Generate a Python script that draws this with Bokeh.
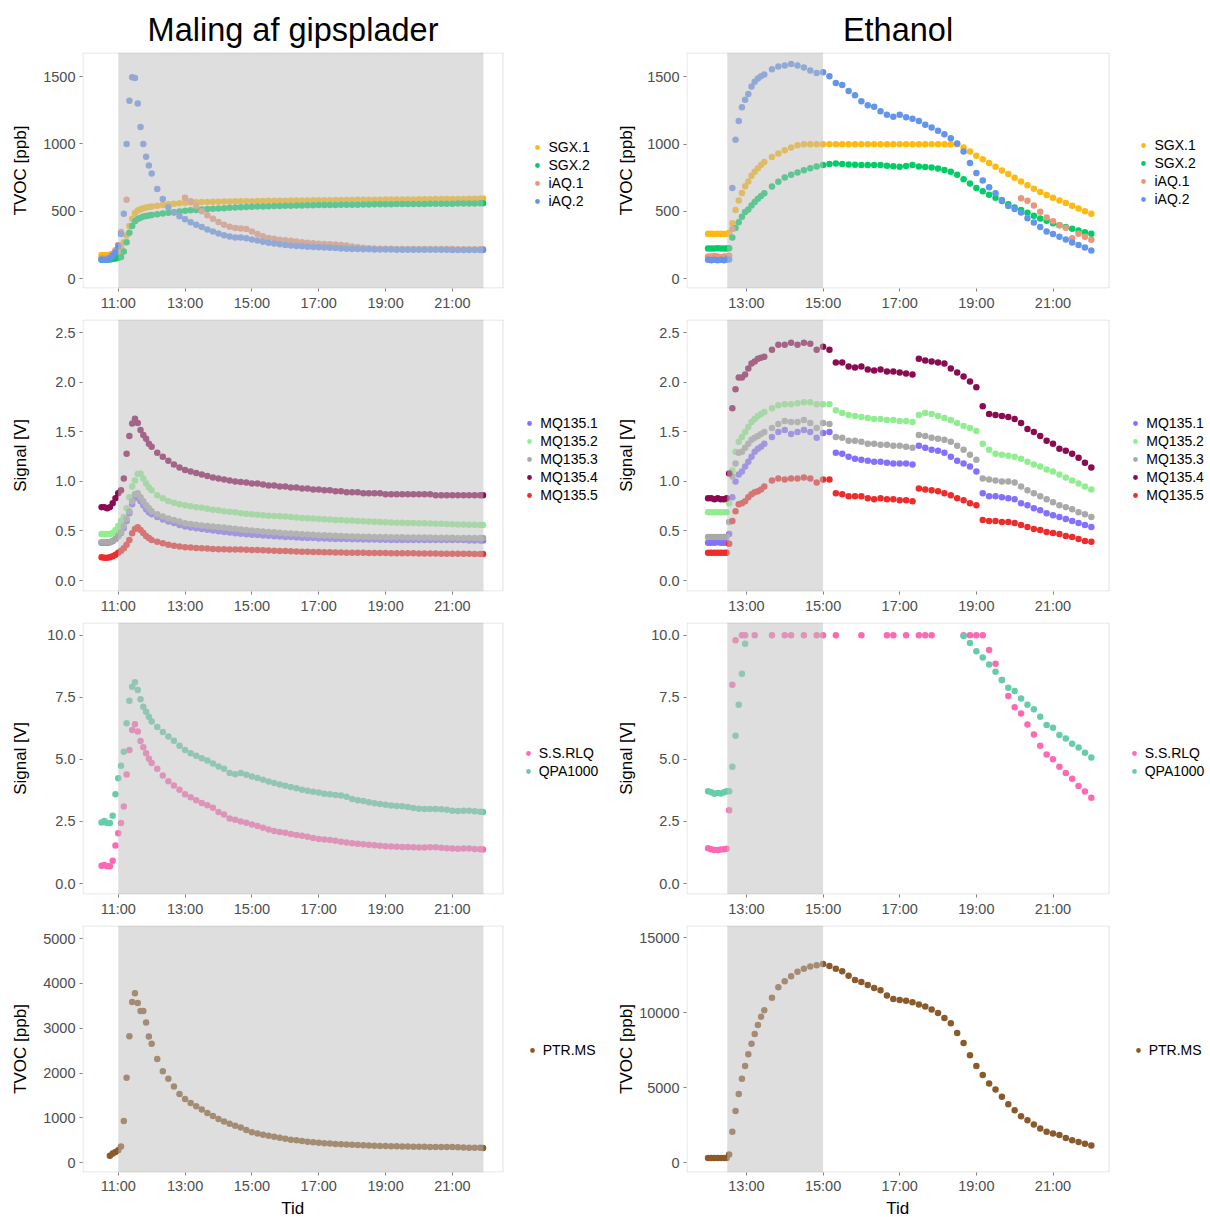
import numpy as np
from bokeh.plotting import figure
from bokeh.models import Range1d, FixedTicker, BoxAnnotation, Legend, LegendItem, Title
from bokeh.layouts import gridplot
from bokeh.embed import file_html
from bokeh.resources import INLINE

N = None

# ---------------- data: left column "Maling af gipsplader" ----------------
# sample times, minutes after midnight
T_LEFT = [630, 635, 640, 645, 650, 655, 660, 665, 670, 675, 680, 685, 690, 695, 700, 705, 710, 715, 720,
          730, 740, 750, 760, 770, 780, 790, 800, 810, 820, 830, 840, 850, 860, 870, 880, 890, 900,
          910, 920, 930, 940, 950, 960, 970, 980, 990, 1000, 1010, 1020, 1030, 1040, 1050, 1060,
          1070, 1080, 1090, 1100, 1110, 1120, 1130, 1140, 1150, 1160, 1170, 1180, 1190, 1200,
          1210, 1220, 1230, 1240, 1250, 1260, 1270, 1280, 1290, 1300, 1310, 1315]

SGX1_L = [175, 175, 175, 177, 180, 188, 200, 230, 270, 320, 390, 445, 487, 505, 515, 522, 527, 531, 535,
          540, 546, 551, 556, 560, 563, 565, 567, 568, 569, 570, 571, 572, 573, 574, 574, 575,
          575, 576, 576, 577, 577, 578, 578, 579, 579, 580, 580, 581, 581, 582, 582, 583, 583, 584,
          584, 585, 585, 585, 586, 586, 587, 587, 587, 588, 588, 588, 589, 589, 589, 590, 590, 590,
          591, 591, 591, 592, 592, 592, 593]
SGX2_L = [140, 140, 140, 142, 145, 148, 152, 160, 200, 270, 340, 390, 425, 442, 452, 460, 465, 469, 472,
          478, 483, 488, 493, 498, 503, 507, 510, 513, 516, 519, 521, 523, 525, 527, 529, 531,
          533, 535, 536, 537, 538, 539, 540, 541, 542, 543, 544, 545, 546, 546, 547, 547, 548, 548,
          549, 549, 550, 550, 551, 551, 552, 552, 553, 553, 553, 554, 554, 554, 555, 555, 556, 556,
          556, 557, 557, 558, 558, 559, 559]
IAQ1_L = [152, 152, 155, 165, 185, 210, 250, 345, N, 585, N, N, N, N, N, N, N, N, N,
          N, N, N, N, N, 600, 575, 540, 500, 470, 445, 420, 400, 385, 375, 372, 368,
          350, 330, 315, 302, 295, 288, 284, 280, 275, 270, 266, 262, 258, 256, 254, 252, 250, 245,
          238, 232, 228, 225, 223, 222, 221, 221, 220, 220, 220, 220, 220, 220, 220, 219, 219, 219,
          219, 218, 218, 218, 218, 217, 217]
IAQ2_L = [142, 140, 140, 150, 170, 195, 240, 330, 482, 1000, 1320, 1495, 1490, 1300, 1125, 1000, 905, 840, 780,
          665, 590, 530, 490, 462, 440, 418, 400, 382, 365, 350, 335, 322, 312, 305, 305, 300,
          290, 282, 274, 266, 260, 255, 250, 246, 242, 239, 236, 234, 232, 230, 228, 226, 224, 222,
          220, 219, 218, 217, 216, 215, 215, 215, 214, 214, 214, 214, 214, 213, 213, 213, 213, 213,
          212, 212, 212, 212, 212, 212, 212]

MQ1_L = [0.38, 0.38, 0.38, 0.385, 0.40, 0.42, 0.45, 0.48, 0.53, 0.60, 0.68, 0.77, 0.83, 0.85, 0.80, 0.76, 0.72, 0.69, 0.67,
         0.64, 0.615, 0.595, 0.58, 0.56, 0.545, 0.535, 0.527, 0.52, 0.512, 0.505, 0.498, 0.49, 0.484, 0.478, 0.473, 0.468,
         0.463, 0.459, 0.455, 0.451, 0.447, 0.444, 0.44, 0.438, 0.435, 0.432, 0.43, 0.428, 0.425, 0.423, 0.422, 0.42, 0.419, 0.418,
         0.417, 0.416, 0.415, 0.414, 0.413, 0.412, 0.411, 0.41, 0.41, 0.41, 0.41, 0.41, 0.41, 0.41, 0.41, 0.41, 0.41, 0.41,
         0.41, 0.41, 0.41, 0.405, 0.405, 0.405, 0.405]
MQ2_L = [0.47, 0.47, 0.47, 0.47, 0.48, 0.51, 0.55, 0.60, 0.64, 0.73, 0.84, 0.95, 1.01, 1.075, 1.08, 1.03, 0.98, 0.94, 0.91,
         0.86, 0.83, 0.80, 0.785, 0.77, 0.76, 0.75, 0.74, 0.735, 0.725, 0.715, 0.71, 0.70, 0.695, 0.69, 0.68, 0.675,
         0.67, 0.665, 0.66, 0.655, 0.65, 0.648, 0.645, 0.64, 0.635, 0.63, 0.628, 0.625, 0.62, 0.618, 0.615, 0.612, 0.61, 0.607,
         0.605, 0.60, 0.598, 0.595, 0.592, 0.59, 0.587, 0.585, 0.583, 0.582, 0.58, 0.58, 0.578, 0.577, 0.575, 0.573, 0.572, 0.57,
         0.568, 0.566, 0.565, 0.564, 0.562, 0.561, 0.56]
MQ3_L = [0.385, 0.385, 0.385, 0.385, 0.40, 0.42, 0.45, 0.49, 0.55, 0.62, 0.70, 0.80, 0.87, 0.88, 0.84, 0.80, 0.76, 0.73, 0.70,
         0.67, 0.645, 0.625, 0.61, 0.595, 0.578, 0.57, 0.563, 0.556, 0.55, 0.545, 0.54, 0.535, 0.528, 0.522, 0.515, 0.51,
         0.505, 0.50, 0.495, 0.49, 0.486, 0.482, 0.478, 0.475, 0.472, 0.468, 0.465, 0.462, 0.458, 0.456, 0.454, 0.452, 0.45, 0.447,
         0.445, 0.443, 0.442, 0.441, 0.44, 0.439, 0.438, 0.437, 0.436, 0.436, 0.435, 0.435, 0.434, 0.433, 0.433, 0.432, 0.432, 0.431,
         0.431, 0.43, 0.43, 0.43, 0.43, 0.43, 0.43]
MQ4_L = [0.74, 0.74, 0.73, 0.74, 0.78, 0.83, 0.88, 0.91, 1.03, 1.28, 1.458, 1.586, 1.633, 1.59, 1.52, 1.47, 1.43, 1.38, 1.35,
         1.29, 1.25, 1.21, 1.17, 1.14, 1.115, 1.10, 1.085, 1.07, 1.055, 1.04, 1.03, 1.02, 1.01, 1.00, 0.995, 0.99,
         0.98, 0.98, 0.97, 0.96, 0.96, 0.95, 0.95, 0.94, 0.94, 0.93, 0.93, 0.92, 0.92, 0.91, 0.91, 0.90, 0.90, 0.89,
         0.89, 0.89, 0.88, 0.88, 0.88, 0.88, 0.87, 0.87, 0.87, 0.87, 0.87, 0.87, 0.87, 0.87, 0.87, 0.86, 0.86, 0.86,
         0.86, 0.86, 0.86, 0.86, 0.86, 0.86, 0.86]
MQ5_L = [0.235, 0.23, 0.23, 0.235, 0.245, 0.26, 0.28, 0.30, 0.326, 0.36, 0.41, 0.477, 0.52, 0.537, 0.51, 0.48, 0.45, 0.43, 0.41,
         0.39, 0.375, 0.36, 0.35, 0.343, 0.336, 0.332, 0.328, 0.325, 0.322, 0.319, 0.316, 0.315, 0.314, 0.313, 0.312, 0.31,
         0.309, 0.307, 0.305, 0.303, 0.301, 0.299, 0.297, 0.295, 0.293, 0.291, 0.29, 0.288, 0.287, 0.285, 0.284, 0.283, 0.282, 0.281,
         0.28, 0.279, 0.279, 0.278, 0.278, 0.277, 0.277, 0.276, 0.276, 0.275, 0.275, 0.274, 0.273, 0.273, 0.272, 0.272, 0.271, 0.271,
         0.27, 0.27, 0.269, 0.269, 0.268, 0.268, 0.268]

SSRLQ_L = [0.72, 0.75, 0.70, 0.70, 0.92, 1.53, 2.03, 2.44, 3.1, 4.39, 5.38, 6.18, 6.41, 6.12, 5.74, 5.49, 5.25, 5.02, 4.85,
           4.62, 4.35, 4.12, 3.95, 3.78, 3.6, 3.48, 3.35, 3.24, 3.15, 3.05, 2.88, 2.78, 2.62, 2.57, 2.5, 2.45,
           2.38, 2.32, 2.25, 2.18, 2.12, 2.08, 2.05, 2.0, 1.96, 1.93, 1.88, 1.83, 1.79, 1.77, 1.75, 1.72, 1.68, 1.65,
           1.62, 1.6, 1.58, 1.56, 1.54, 1.52, 1.5, 1.49, 1.48, 1.47, 1.47, 1.46, 1.45, 1.45, 1.46, 1.46, 1.44, 1.42,
           1.41, 1.40, 1.41, 1.41, 1.39, 1.38, 1.37]
QPA_L = [2.46, 2.52, 2.44, 2.44, 2.73, 3.6, 4.24, 4.74, 5.31, 6.45, 7.36, 7.92, 8.1, 7.79, 7.42, 7.12, 6.92, 6.72, 6.52,
         6.3, 6.1, 5.92, 5.75, 5.55, 5.38, 5.25, 5.15, 5.05, 4.95, 4.83, 4.71, 4.62, 4.45, 4.40, 4.45, 4.38,
         4.31, 4.25, 4.18, 4.11, 4.05, 3.99, 3.94, 3.89, 3.84, 3.78, 3.74, 3.70, 3.67, 3.62, 3.60, 3.57, 3.55, 3.50,
         3.40, 3.35, 3.32, 3.27, 3.23, 3.20, 3.17, 3.14, 3.12, 3.11, 3.08, 3.04, 3.01, 3.00, 3.00, 3.00, 2.99, 2.97,
         2.93, 2.92, 2.93, 2.93, 2.91, 2.89, 2.88]

PTR_L = [N, N, N, 153, 203, 240, 276, 363, 930, 1897, 2820, 3583, 3779, 3561, 3386, 3386, 3125, 2812, 2652,
         2311, 2040, 1870, 1700, 1530, 1420, 1330, 1260, 1185, 1110, 1040, 975, 920, 870, 825, 785, 730,
         680, 650, 625, 600, 578, 555, 532, 515, 500, 485, 470, 455, 443, 435, 428, 420, 412, 405,
         400, 395, 390, 385, 380, 375, 371, 368, 365, 362, 360, 358, 356, 354, 353, 352, 351, 350,
         349, 345, 340, 335, 335, 332, 327]

# ---------------- data: right column "Ethanol" ----------------
T_RIGHT = [720, 725, 730, 735, 740, 745, 749, 753, 758, 763, 768, 773, 778, 783, 788, 793, 798, 803, 808,
           820, 830, 840, 850, 860, 870, 880, 890, 900, 910, 920, 930, 940, 950, 960, 970, 980,
           990, 1000, 1010, 1020, 1030, 1040, 1050, 1060, 1070, 1080, 1090, 1100, 1110, 1120,
           1130, 1140, 1150, 1160, 1170, 1180, 1190, 1200, 1210, 1220, 1230, 1240, 1250, 1260,
           1270, 1280, 1290, 1300, 1310, 1320]

SGX1_R = [335, 335, 333, 335, 335, 333, 335, 340, 413, 510, 582, 638, 687, 723, 765, 795, 822, 845, 868,
          905, 930, 955, 975, 992, 1000, 1000, 1000, 1000, 1000, 1000, 1000, 1000, 1000,
          1000, 1000, 1000, 1000, 1000, 1000, 1000, 1000, 1000, 1000, 1000, 1000,
          1000, 1000, 1000, 1000, 975, 945, 915, 888, 860, 832, 805, 778,
          750, 722, 695, 668, 645, 623, 602, 582, 562, 542, 522, 502, 482]
SGX2_R = [225, 224, 225, 226, 224, 225, 225, 226, 306, 376, 420, 461, 495, 515, 545, 570, 595, 614, 635,
          685, 720, 752, 772, 790, 806, 822, 835, 845, 852, 856, 852, 849, 847,
          845, 845, 846, 845, 840, 836, 833, 838, 845, 835, 830, 826,
          820, 808, 795, 772, 740, 708, 675, 650, 625, 602, 578, 553,
          529, 510, 490, 468, 448, 430, 413, 398, 384, 371, 358, 346, 335]
IAQ1_R = [165, 165, 168, 165, 162, 165, 165, 170, 370, N, N, N, N, N, N, N, N, N, N,
          N, N, N, N, N, N, N, N, N, N, N, N, N, N,
          N, N, N, N, N, N, N, N, N, N, N, N,
          N, N, N, N, N, N, N, N, N, N, N, N,
          N, 598, 580, 545, 498, 455, 428, 398, 378, 300, 335, 312, 290]
IAQ2_R = [140, 138, 140, 138, 140, 138, 142, 142, 675, 1034, 1172, 1274, 1330, 1374, 1430, 1465, 1488, 1505, 1519,
          1558, 1578, 1585, 1597, 1585, 1570, 1548, 1529, 1536, 1505, 1455, 1440, 1395, 1365,
          1320, 1290, 1278, 1245, 1220, 1205, 1220, 1200, 1190, 1172, 1145, 1124,
          1100, 1075, 1045, 1005, 945, 860, 785, 730, 680, 635, 585, 540,
          518, 492, 450, 418, 385, 350, 332, 311, 292, 270, 250, 232, 209]

MQ1_R = [0.38, 0.38, 0.38, 0.385, 0.38, 0.38, 0.38, 0.47, 0.84, 1.00, 1.07, 1.10, 1.15, 1.20, 1.25, 1.30, 1.33, 1.35, 1.38,
         1.45, 1.50, 1.52, 1.48, 1.50, 1.52, 1.50, 1.44, 1.49, 1.50, 1.29, 1.28, 1.25, 1.23,
         1.22, 1.21, 1.20, 1.20, 1.19, 1.18, 1.18, 1.18, 1.17, 1.36, 1.34, 1.32,
         1.31, 1.29, 1.25, 1.21, 1.18, 1.15, 1.10, 0.88, 0.85, 0.85, 0.84, 0.83,
         0.82, 0.78, 0.76, 0.73, 0.71, 0.68, 0.66, 0.64, 0.62, 0.60, 0.58, 0.56, 0.54]
MQ2_R = [0.69, 0.69, 0.69, 0.69, 0.69, 0.69, 0.69, 0.78, 1.11, 1.30, 1.40, 1.45, 1.50, 1.55, 1.60, 1.63, 1.66, 1.68, 1.70,
         1.74, 1.77, 1.78, 1.78, 1.79, 1.80, 1.80, 1.78, 1.78, 1.78, 1.72, 1.69, 1.67, 1.66,
         1.65, 1.64, 1.63, 1.63, 1.62, 1.62, 1.61, 1.61, 1.60, 1.67, 1.69, 1.68,
         1.66, 1.64, 1.62, 1.59, 1.56, 1.54, 1.51, 1.38, 1.32, 1.28, 1.27, 1.26,
         1.25, 1.23, 1.20, 1.17, 1.15, 1.12, 1.10, 1.07, 1.04, 1.01, 0.98, 0.95, 0.92]
MQ3_R = [0.44, 0.44, 0.44, 0.44, 0.44, 0.44, 0.44, 0.59, 1.05, 1.18, 1.29, 1.30, 1.34, 1.38, 1.42, 1.44, 1.46, 1.48, 1.50,
         1.54, 1.58, 1.61, 1.60, 1.60, 1.62, 1.59, 1.54, 1.59, 1.58, 1.45, 1.44, 1.41, 1.41,
         1.40, 1.38, 1.38, 1.37, 1.37, 1.36, 1.36, 1.35, 1.34, 1.47, 1.46, 1.44,
         1.43, 1.42, 1.40, 1.36, 1.32, 1.27, 1.22, 1.03, 1.02, 1.01, 1.00, 1.00,
         0.99, 0.95, 0.91, 0.88, 0.85, 0.82, 0.79, 0.76, 0.74, 0.72, 0.69, 0.67, 0.64]
MQ4_R = [0.83, 0.83, 0.82, 0.83, 0.82, 0.82, 0.83, 1.08, 1.74, 1.93, 2.05, 2.05, 2.08, 2.14, 2.19, 2.21, 2.24, 2.25, 2.26,
         2.33, 2.38, 2.38, 2.40, 2.38, 2.40, 2.39, 2.33, 2.36, 2.33, 2.20, 2.20, 2.16, 2.15,
         2.16, 2.13, 2.12, 2.13, 2.11, 2.11, 2.10, 2.09, 2.08, 2.24, 2.22, 2.21,
         2.20, 2.19, 2.14, 2.10, 2.06, 2.01, 1.95, 1.76, 1.68, 1.67, 1.66, 1.65,
         1.63, 1.59, 1.53, 1.50, 1.46, 1.41, 1.38, 1.33, 1.31, 1.28, 1.24, 1.19, 1.14]
MQ5_R = [0.28, 0.28, 0.28, 0.28, 0.28, 0.28, 0.28, 0.37, 0.60, 0.70, 0.77, 0.78, 0.80, 0.84, 0.87, 0.89, 0.90, 0.92, 0.95,
         1.01, 1.03, 1.02, 1.03, 1.03, 1.04, 1.03, 0.99, 1.02, 1.02, 0.88, 0.87, 0.85, 0.85,
         0.85, 0.83, 0.82, 0.83, 0.82, 0.82, 0.81, 0.81, 0.80, 0.93, 0.92, 0.91,
         0.90, 0.88, 0.86, 0.83, 0.81, 0.78, 0.76, 0.61, 0.60, 0.60, 0.59, 0.59,
         0.58, 0.56, 0.54, 0.52, 0.51, 0.49, 0.48, 0.47, 0.45, 0.44, 0.42, 0.40, 0.39]

SSRLQ_R = [1.42, 1.38, 1.35, 1.35, 1.37, 1.38, 1.40, 2.95, 8.0, 9.8, N, 10, 10, N, N, 10, N, N, N,
           10, N, 10, 10, N, 10, N, 10, 10, N, 10, N, N, N,
           10, N, N, N, 10, 10, N, 10, N, 10, 10, 10,
           N, N, N, N, 10, 10, 10, 10, 9.4, 8.85, 8.2, 7.55,
           7.1, 6.85, 6.4, 6.0, 5.55, 5.2, 5.0, 4.7, 4.45, 4.22, 3.93, 3.71, 3.45]
QPA_R = [3.72, 3.68, 3.62, 3.65, 3.63, 3.68, 3.72, 3.72, 4.7, 5.95, 7.2, 8.45, 9.65, N, N, N, N, N, N,
         N, N, N, N, N, N, N, N, N, N, N, N, N, N,
         N, N, N, N, N, N, N, N, N, N, N, N,
         N, N, N, N, 9.97, 9.68, 9.35, 9.1, 8.82, 8.53, 8.2, 7.88,
         7.75, 7.45, 7.2, 7.02, 6.72, 6.38, 6.27, 5.98, 5.84, 5.63, 5.48, 5.27, 5.08]

PTR_R = [310, 310, 315, 310, 310, 315, 320, 543, 2065, 3457, 4587, 5609, 6457, 7239, 7935, 8587, 9196, 9739, 10174,
         11000, 11700, 12100, 12450, 12750, 12950, 13100, 13170, 13260, 13130, 12950, 12780, 12480, 12200,
         12065, 11850, 11650, 11500, 11150, 10930, 10860, 10800, 10700, 10560, 10430, 10230,
         9990, 9650, 9300, 8650, 7980, 7170, 6450, 5850, 5280, 4880, 4400, 3900,
         3500, 3100, 2830, 2550, 2290, 2070, 1950, 1850, 1650, 1500, 1380, 1260, 1150]

# shaded exposure periods (hours)
SHADE_LEFT = (11.0, 21.93)
SHADE_RIGHT = (12.5, 15.0)

# names / colours
TVOC_NAMES = ["SGX.1", "SGX.2", "iAQ.1", "iAQ.2"]
TVOC_COLORS = ["#FFB90F", "#00CD66", "#E9967A", "#6495ED"]
MQ_NAMES = ["MQ135.1", "MQ135.2", "MQ135.3", "MQ135.4", "MQ135.5"]
MQ_COLORS = ["#8470FF", "#90EE90", "#A9A9A9", "#8B0A50", "#EE2C2C"]
SIG_NAMES = ["S.S.RLQ", "QPA1000"]
SIG_COLORS = ["#FF69B4", "#66CDAA"]
PTR_NAMES = ["PTR.MS"]
PTR_COLORS = ["#8B5A2B"]

# ticks
XT_LEFT = [11, 13, 15, 17, 19, 21]
XL_LEFT = ["11:00", "13:00", "15:00", "17:00", "19:00", "21:00"]
XT_RIGHT = [13, 15, 17, 19, 21]
XL_RIGHT = ["13:00", "15:00", "17:00", "19:00", "21:00"]
YT_TVOC = [0, 500, 1000, 1500]
YL_TVOC = ["0", "500", "1000", "1500"]
YT_MQ = [0.0, 0.5, 1.0, 1.5, 2.0, 2.5]
YL_MQ = ["0.0", "0.5", "1.0", "1.5", "2.0", "2.5"]
YT_SIG = [0.0, 2.5, 5.0, 7.5, 10.0]
YL_SIG = ["0.0", "2.5", "5.0", "7.5", "10.0"]
YT_PTR_L = [0, 1000, 2000, 3000, 4000, 5000]
YL_PTR_L = ["0", "1000", "2000", "3000", "4000", "5000"]
YT_PTR_R = [0, 5000, 10000, 15000]
YL_PTR_R = ["0", "5000", "10000", "15000"]

for s in [SGX1_L, SGX2_L, IAQ1_L, IAQ2_L, MQ1_L, MQ2_L, MQ3_L, MQ4_L, MQ5_L, SSRLQ_L, QPA_L, PTR_L]:
    assert len(s) == len(T_LEFT), len(s)
for s in [SGX1_R, SGX2_R, IAQ1_R, IAQ2_R, MQ1_R, MQ2_R, MQ3_R, MQ4_R, MQ5_R, SSRLQ_R, QPA_R, PTR_R]:
    assert len(s) == len(T_RIGHT), len(s)

FONT = "Liberation Sans"
TICK_TXT = "#4D4D4D"
BORDER = "#9A9A9A"

HEIGHTS = [313, 303, 303, 298]
BOTTOMS = [24, 24, 24, 40]

# approximate Arial/Liberation Sans advance widths (em) for text width estimates
CW = {c: 0.556 for c in "0123456789"}
CW.update({".": 0.278, "S": 0.667, "G": 0.778, "X": 0.667, "i": 0.222, "A": 0.667, "Q": 0.778,
           "M": 0.833, "R": 0.722, "L": 0.556, "P": 0.667, "T": 0.611, "E": 0.667, "t": 0.278,
           "h": 0.556, "a": 0.556, "n": 0.556, "o": 0.556, "l": 0.222, "g": 0.556, " ": 0.278,
           "f": 0.278, "p": 0.556, "s": 0.5, "d": 0.556, "e": 0.556, "r": 0.333})


def text_w(s, size):
    return sum(CW.get(c, 0.556) for c in s) * size


LEG_FS = 14.0
TITLE_FS = 32.5
AXT_FS = 17.0


def make_panel(col, row, times, series, names, colors, yrange, yticks, ylabels, ylabel,
               label_standoff, title=None, xlabel=None):
    left = col == 0
    fl = 82 if left else 81          # frame left offset inside the figure
    fw = 421 if left else 423        # width of the bordered plotting box
    top = (52 if left else 48) if row == 0 else 6
    h = HEIGHTS[row]
    bot = BOTTOMS[row]
    fh = h - top - bot
    x0, x1 = (9.93, 22.53) if left else (11.437, 22.474)
    ext = 605 - fl                   # frame extends over legend area (legend not clipped)
    dx = (x1 - x0) / fw
    x1_ext = x0 + ext * dx
    y0, y1 = yrange
    dy = (y1 - y0) / fh
    p = figure(width=605, height=h, output_backend="svg", toolbar_location=None,
               x_range=Range1d(x0, x1_ext), y_range=Range1d(y0, y1),
               min_border_left=fl, min_border_right=0,
               min_border_top=top, min_border_bottom=bot)
    p.background_fill_color = "white"
    p.border_fill_color = "white"
    p.outline_line_color = None
    p.xgrid.visible = False
    p.ygrid.visible = False

    x = np.array(times, dtype=float) / 60.0
    items = []
    for vals, nm, c in zip(series, names, colors):
        y = np.array(vals, dtype=float)
        r = p.scatter(x, y, size=6.5, fill_color=c, line_color=None, marker="circle")
        items.append(LegendItem(label=nm, renderers=[r]))

    shade = SHADE_LEFT if left else SHADE_RIGHT
    p.add_layout(BoxAnnotation(left=shade[0], right=shade[1], bottom=y0, top=y1,
                               fill_color="#BEBEBE", fill_alpha=0.5, line_color=None))
    # panel border
    p.add_layout(BoxAnnotation(left=x0 + 0.5 * dx, right=x1 - 0.5 * dx,
                               bottom=y0 + 0.5 * dy, top=y1 - 0.5 * dy,
                               fill_alpha=0, line_color=BORDER, line_width=1))

    xt = XT_LEFT if left else XT_RIGHT
    xl = XL_LEFT if left else XL_RIGHT
    for ax in (p.xaxis[0], p.yaxis[0]):
        ax.axis_line_color = None
        ax.major_tick_line_color = "#7F7F7F"
        ax.major_tick_in = 0
        ax.major_tick_out = 3
        ax.minor_tick_line_color = None
        ax.major_label_text_font = FONT
        ax.major_label_text_font_size = "14.5px"
        ax.major_label_text_color = TICK_TXT
        ax.major_label_standoff = 3
        ax.axis_label_text_font = FONT
        ax.axis_label_text_font_size = "%spx" % AXT_FS
        ax.axis_label_text_font_style = "normal"
        ax.axis_label_text_color = "black"
    p.xaxis.ticker = FixedTicker(ticks=xt)
    p.xaxis.major_label_overrides = dict(zip(xt, xl))
    p.yaxis.ticker = FixedTicker(ticks=yticks)
    p.yaxis.major_label_overrides = dict(zip(yticks, ylabels))
    p.yaxis.axis_label = ylabel
    p.yaxis.axis_label_standoff = label_standoff
    p.yaxis.major_label_standoff = 4
    if xlabel:
        p.xaxis.major_label_standoff = 2
        p.xaxis.major_label_text_line_height = 1.0
        xt_title = Title(text=xlabel, align="left", offset=fw / 2.0 - text_w(xlabel, AXT_FS) / 2.0,
                         standoff=0, text_font=FONT, text_font_size="%spx" % AXT_FS,
                         text_line_height=1.0,
                         text_font_style="normal", text_color="black")
        p.add_layout(xt_title, "below")

    if title:
        p.title.text = title
        p.title.text_font = FONT
        p.title.text_font_size = "%spx" % TITLE_FS
        p.title.text_font_style = "normal"
        p.title.align = "left"
        p.title.offset = fw / 2.0 - text_w(title, TITLE_FS) / 2.0
        p.title.text_color = "black"

    n = len(names)
    pad = 2
    ih = 18
    gw = 12
    stand = 5
    H = 2 * pad + n * ih
    tw = max(text_w(s, LEG_FS) for s in names)
    # visible legend (bullet .. end of text) centred ~62 px right of the box
    vis_w = (gw / 2.0 - 2.4) + stand + gw / 2.0 + 2.4 + tw - 2.4
    box_left = fw + 62 - (pad + gw / 2.0 - 2.4) - vis_w / 2.0
    leg = Legend(items=items, location=(box_left, fh / 2.0 - 2 - H / 2.0),
                 margin=0, padding=pad, spacing=0,
                 glyph_width=gw, glyph_height=ih, label_height=ih, label_standoff=stand,
                 label_text_font=FONT, label_text_font_size="%spx" % LEG_FS, label_text_color="black",
                 border_line_color=None, background_fill_alpha=0)
    p.add_layout(leg, "center")
    return p


pl1 = make_panel(0, 0, T_LEFT, [SGX1_L, SGX2_L, IAQ1_L, IAQ2_L], TVOC_NAMES, TVOC_COLORS,
                 (-74, 1679), YT_TVOC, YL_TVOC, "TVOC [ppb]", 10, title="Maling af gipsplader")
pl2 = make_panel(0, 1, T_LEFT, [MQ1_L, MQ2_L, MQ3_L, MQ4_L, MQ5_L], MQ_NAMES, MQ_COLORS,
                 (-0.111, 2.635), YT_MQ, YL_MQ, "Signal [V]", 22)
pl3 = make_panel(0, 2, T_LEFT, [SSRLQ_L, QPA_L], SIG_NAMES, SIG_COLORS,
                 (-0.44, 10.51), YT_SIG, YL_SIG, "Signal [V]", 14)
pl4 = make_panel(0, 3, T_LEFT, [PTR_L], PTR_NAMES, PTR_COLORS,
                 (-218, 5290), YT_PTR_L, YL_PTR_L, "TVOC [ppb]", 10, xlabel="Tid")

pr1 = make_panel(1, 0, T_RIGHT, [SGX1_R, SGX2_R, IAQ1_R, IAQ2_R], TVOC_NAMES, TVOC_COLORS,
                 (-73, 1682), YT_TVOC, YL_TVOC, "TVOC [ppb]", 8, title="Ethanol")
pr2 = make_panel(1, 1, T_RIGHT, [MQ1_R, MQ2_R, MQ3_R, MQ4_R, MQ5_R], MQ_NAMES, MQ_COLORS,
                 (-0.111, 2.635), YT_MQ, YL_MQ, "Signal [V]", 20)
pr3 = make_panel(1, 2, T_RIGHT, [SSRLQ_R, QPA_R], SIG_NAMES, SIG_COLORS,
                 (-0.44, 10.51), YT_SIG, YL_SIG, "Signal [V]", 12)
pr4 = make_panel(1, 3, T_RIGHT, [PTR_R], PTR_NAMES, PTR_COLORS,
                 (-652, 15828), YT_PTR_R, YL_PTR_R, "TVOC [ppb]", 0, xlabel="Tid")

grid = gridplot([[pl1, pr1], [pl2, pr2], [pl3, pr3], [pl4, pr4]], toolbar_location=None)

open("out.html", "w").write(file_html(grid, INLINE))
